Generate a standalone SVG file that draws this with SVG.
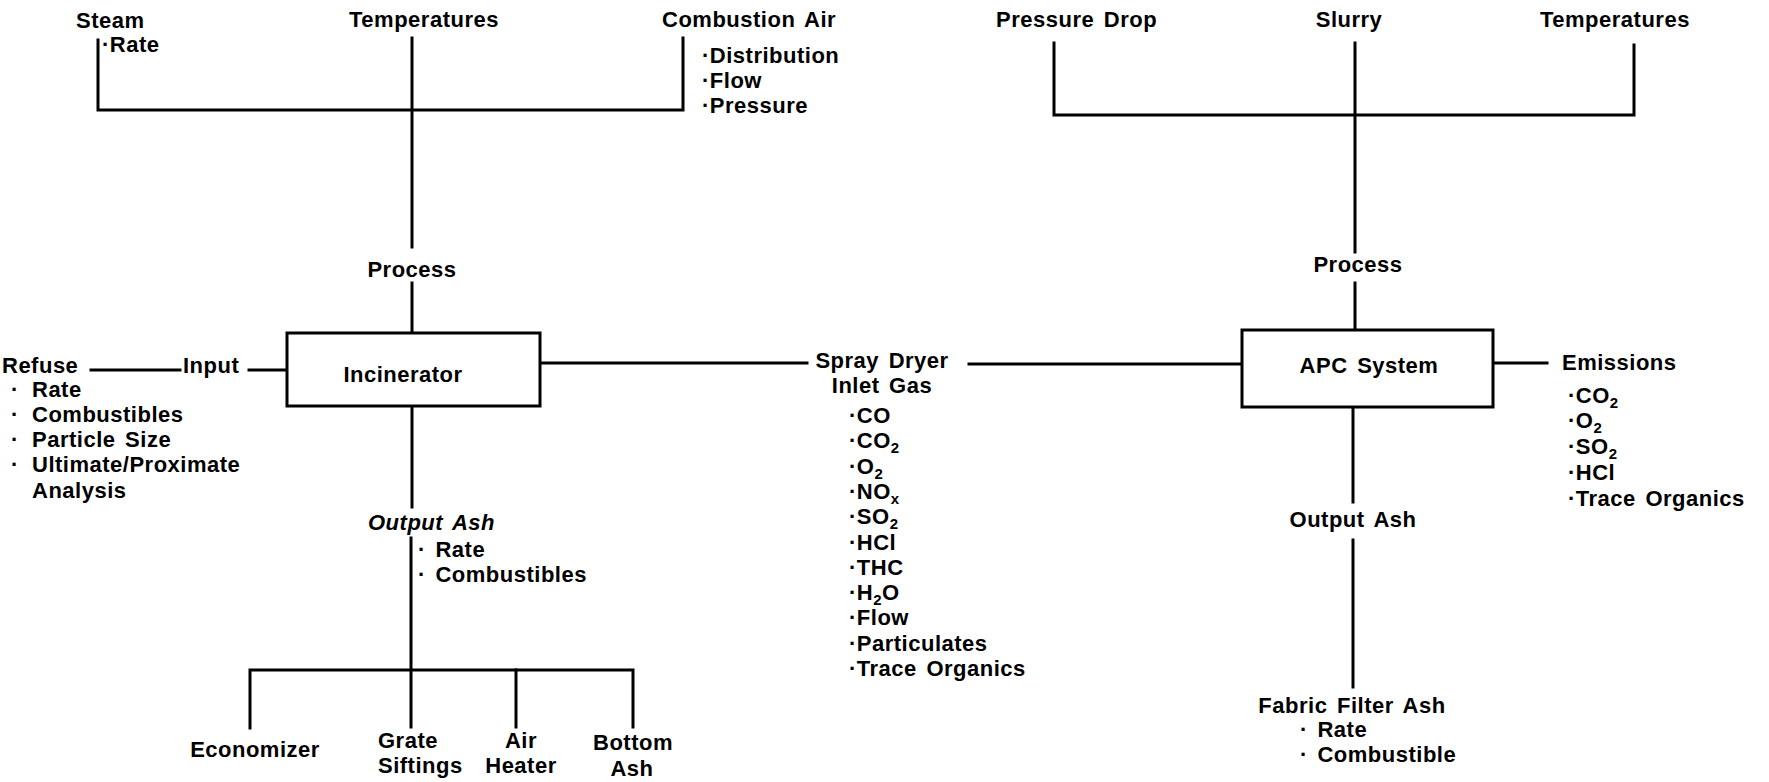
<svg xmlns="http://www.w3.org/2000/svg" width="1769" height="782" viewBox="0 0 1769 782">
<style>
text{font-family:"Liberation Sans",Arial,sans-serif;font-weight:bold;font-size:22px;fill:#000;letter-spacing:0.5px;word-spacing:3px}
.m{text-anchor:middle}
.it{font-style:italic}
.sub{font-size:15px}
.ln{stroke:#000;stroke-width:3;fill:none;stroke-linecap:square}
.box{stroke:#000;stroke-width:3;fill:#fff}
</style>
<rect width="1769" height="782" fill="#fff"/>
<g id="connectors">
<path class="ln" d="M98,40 V110 H683 V38"/>
<path class="ln" d="M412,38 V247"/>
<path class="ln" d="M412,283 V333"/>
<path class="ln" d="M1054,43 V115 H1634 V45"/>
<path class="ln" d="M1355,43 V252"/>
<path class="ln" d="M1355,283 V330"/>
<path class="ln" d="M91,370 H180"/>
<path class="ln" d="M249,370 H287"/>
<path class="ln" d="M540,363 H807"/>
<path class="ln" d="M969,364 H1242"/>
<path class="ln" d="M1493,363 H1547"/>
<path class="ln" d="M412,406 V507"/>
<path class="ln" d="M411,538 V727"/>
<path class="ln" d="M250,728 V670 H633 V727"/>
<path class="ln" d="M516,670 V727"/>
<path class="ln" d="M1353,407 V502"/>
<path class="ln" d="M1353,540 V687"/>
</g>
<g id="incinerator">
<rect class="box" x="287" y="333" width="253" height="73"/>
<text class="m" x="403" y="382">Incinerator</text>
</g>
<g id="apc">
<rect class="box" x="1242" y="330" width="251" height="77"/>
<text class="m" x="1369" y="373">APC System</text>
</g>
<g id="steam">
<text x="76" y="28">Steam</text>
<text x="102" y="52">·Rate</text>
</g>
<g id="temperatures-left">
<text class="m" x="424" y="27">Temperatures</text>
</g>
<g id="combustion-air">
<text x="662" y="27">Combustion Air</text>
<text x="702" y="63">·Distribution</text>
<text x="702" y="88">·Flow</text>
<text x="702" y="113">·Pressure</text>
</g>
<g id="process-left">
<text class="m" x="412" y="277">Process</text>
</g>
<g id="pressure-drop">
<text x="996" y="27">Pressure Drop</text>
</g>
<g id="slurry">
<text class="m" x="1349" y="27">Slurry</text>
</g>
<g id="temperatures-right">
<text x="1540" y="27">Temperatures</text>
</g>
<g id="process-right">
<text class="m" x="1358" y="272">Process</text>
</g>
<g id="refuse">
<text x="2" y="373">Refuse</text>
<text><tspan x="11" y="397">·</tspan><tspan x="32" y="397">Rate</tspan></text>
<text><tspan x="11" y="422">·</tspan><tspan x="32" y="422">Combustibles</tspan></text>
<text><tspan x="11" y="447">·</tspan><tspan x="32" y="447">Particle Size</tspan></text>
<text><tspan x="11" y="472">·</tspan><tspan x="32" y="472">Ultimate/Proximate</tspan></text>
<text x="32" y="498">Analysis</text>
</g>
<g id="input">
<text x="183" y="373">Input</text>
</g>
<g id="spray-dryer">
<text class="m" x="882" y="368">Spray Dryer</text>
<text class="m" x="882" y="393">Inlet Gas</text>
<text x="849" y="423">·CO</text>
<text x="849" y="448">·CO<tspan class="sub" dy="5">2</tspan></text>
<text x="849" y="474">·O<tspan class="sub" dy="5">2</tspan></text>
<text x="849" y="499">·NO<tspan class="sub" dy="5">x</tspan></text>
<text x="849" y="524">·SO<tspan class="sub" dy="5">2</tspan></text>
<text x="849" y="550">·HCl</text>
<text x="849" y="575">·THC</text>
<text x="849" y="600">·H<tspan class="sub" dy="5">2</tspan><tspan dy="-5">O</tspan></text>
<text x="849" y="625">·Flow</text>
<text x="849" y="651">·Particulates</text>
<text x="849" y="676">·Trace Organics</text>
</g>
<g id="emissions">
<text x="1562" y="370">Emissions</text>
<text x="1568" y="403">·CO<tspan class="sub" dy="5">2</tspan></text>
<text x="1568" y="428">·O<tspan class="sub" dy="5">2</tspan></text>
<text x="1568" y="454">·SO<tspan class="sub" dy="5">2</tspan></text>
<text x="1568" y="480">·HCl</text>
<text x="1568" y="506">·Trace Organics</text>
</g>
<g id="output-ash-left">
<text class="it" x="368" y="530">Output Ash</text>
<text x="418" y="557">· Rate</text>
<text x="418" y="582">· Combustibles</text>
</g>
<g id="economizer">
<text class="m" x="255" y="757">Economizer</text>
</g>
<g id="grate-siftings">
<text x="378" y="748">Grate</text>
<text x="378" y="773">Siftings</text>
</g>
<g id="air-heater">
<text class="m" x="521" y="748">Air</text>
<text class="m" x="521" y="773">Heater</text>
</g>
<g id="bottom-ash">
<text class="m" x="633" y="750">Bottom</text>
<text class="m" x="632" y="776">Ash</text>
</g>
<g id="output-ash-right">
<text class="m" x="1353" y="527">Output Ash</text>
</g>
<g id="fabric-filter-ash">
<text class="m" x="1352" y="713">Fabric Filter Ash</text>
<text x="1300" y="737">· Rate</text>
<text x="1300" y="762">· Combustible</text>
</g>
</svg>
